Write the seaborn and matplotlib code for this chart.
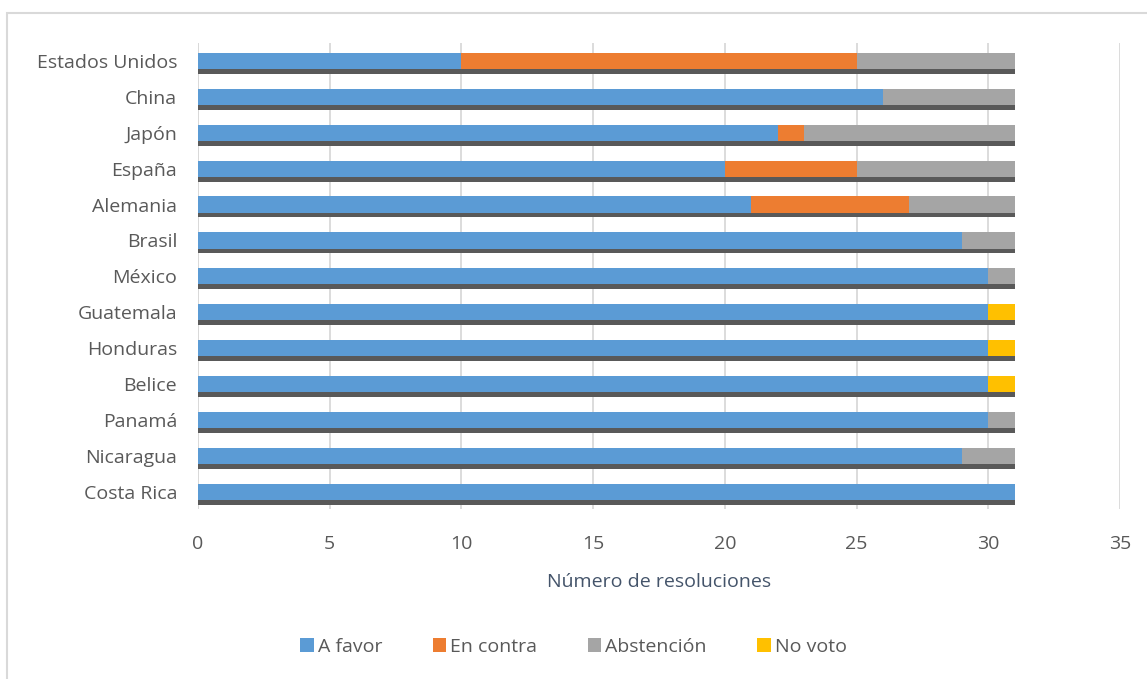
import matplotlib
matplotlib.use("Agg")
import matplotlib.pyplot as plt
import matplotlib.patheffects as pe
from matplotlib.patches import Rectangle, Patch
import seaborn as sns
import pandas as pd
import numpy as np

countries = ["Estados Unidos", "China", "Japón", "España", "Alemania", "Brasil", "México",
             "Guatemala", "Honduras", "Belice", "Panamá", "Nicaragua", "Costa Rica"]
a_favor    = [10, 26, 22, 20, 21, 29, 30, 30, 30, 30, 30, 29, 31]
en_contra  = [15,  0,  1,  5,  6,  0,  0,  0,  0,  0,  0,  0,  0]
abstencion = [ 6,  5,  8,  6,  4,  2,  1,  0,  0,  0,  1,  2,  0]
no_voto    = [ 0,  0,  0,  0,  0,  0,  0,  1,  1,  1,  0,  0,  0]

series = ["A favor", "En contra", "Abstención", "No voto"]
colors = ["#5B9BD5", "#ED7D31", "#A5A5A5", "#FFC000"]

sns.set_theme(style="white")
plt.rcParams["font.family"] = ["Open Sans", "DejaVu Sans"]
text_color = "#595959"

df = pd.DataFrame({"País": countries, "A favor": a_favor, "En contra": en_contra,
                   "Abstención": abstencion, "No voto": no_voto})
cum = df[series].cumsum(axis=1)

fig = plt.figure(figsize=(11.47, 6.79), dpi=100)
ax = fig.add_axes([0.1726, 0.2504, 0.8039, 0.6863])

shadow = [pe.SimplePatchShadow(offset=(0, -3.5), shadow_rgbFace="#595959", alpha=1.0), pe.Normal()]

for s, c in reversed(list(zip(series, colors))):
    sns.barplot(x=cum[s], y=df["País"], orient="h", color=c, width=0.45,
                ax=ax, saturation=1, linewidth=0, order=countries)

for p in ax.patches:
    p.set_path_effects(shadow)

ax.set_xlim(0, 35)
ax.set_xticks(np.arange(0, 36, 5))
ax.set_ylim(12.48, -0.5)
ax.grid(axis="x", color="#D9D9D9", linewidth=1.3)
ax.set_axisbelow(True)
for sp in ax.spines.values():
    sp.set_visible(False)
ax.axvline(0, color="#D9D9D9", linewidth=1.3, zorder=0)
ax.tick_params(axis="y", length=0, labelsize=14, colors=text_color, pad=15)
ax.tick_params(axis="x", length=0, labelsize=14, colors=text_color, pad=19)
ax.set_ylabel("")
ax.set_xlabel("Número de resoluciones", fontsize=14, color="#44546A", labelpad=14)

handles = [Patch(facecolor=c, edgecolor="none", label=s) for s, c in zip(series, colors)]
fig.legend(handles=handles, loc="center", bbox_to_anchor=(0.5, 0.047), ncol=4, frameon=False,
           fontsize=14, labelcolor=text_color, handlelength=0.7, handleheight=0.7,
           handletextpad=0.2, columnspacing=2.6)

fig.patches.append(Rectangle((7 / 1147, -0.05), 1.1, 1.05 - 13 / 679,
                             transform=fig.transFigure, fill=False, edgecolor="#D9D9D9",
                             linewidth=1.5))

fig.savefig("out.png", dpi=100)
